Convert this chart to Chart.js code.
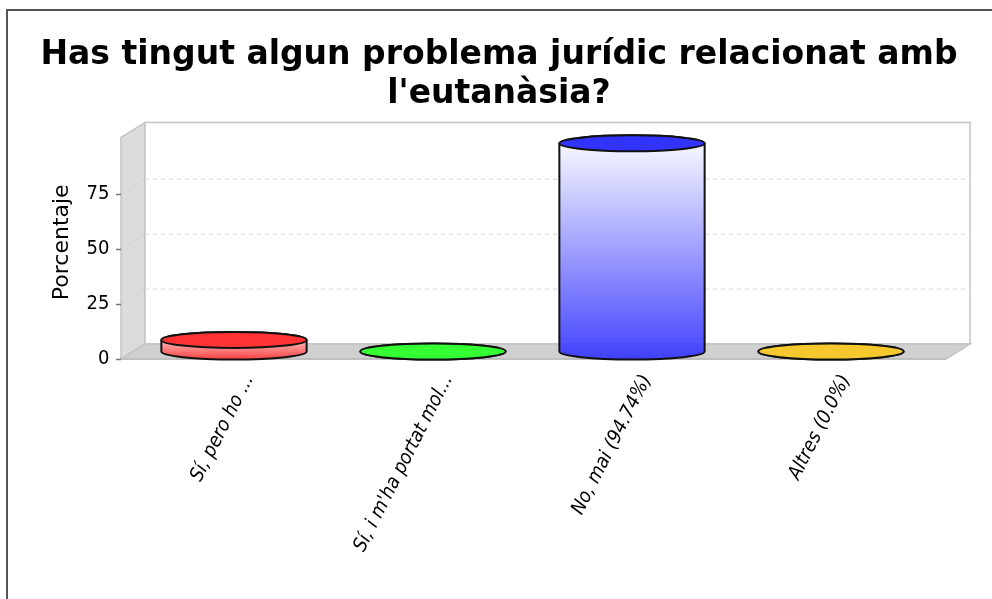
<!DOCTYPE html>
<html><head><meta charset="utf-8">
<style>html,body{margin:0;padding:0;background:#fff}#w{position:relative;width:992px;height:599px;overflow:hidden}
#f{position:absolute;left:6px;top:9px;width:1000px;height:600px;border:2px solid #555;box-sizing:border-box;pointer-events:none}</style>
<script src="https://cdn.jsdelivr.net/npm/chart.js@4"></script></head>
<body><div id="w"><canvas id="c" width="992" height="599"></canvas><div id="f"></div></div>
<script>
const titleLines = ["Has tingut algun problema jurídic relacionat amb", "l'eutanàsia?"];
const categories = ["Sí, pero ho ...", "Sí, i m'ha portat mol...", "No, mai (94.74%)", "Altres (0.0%)"];
const values = [5.26, 0, 94.74, 0];
const topColors = ["#ff3333", "#33ff33", "#3333ff", "#f5c92e"];
const axisTitle = "Porcentaje";
const yTicks = [0, 25, 50, 75];

const DX = 24, DY = 15;
function rgba(hex, a) {
  const n = parseInt(hex.slice(1), 16);
  return `rgba(${n>>16},${(n>>8)&255},${n&255},${a})`;
}
const frame = {
  id: 'frame3d',
  beforeDraw(chart) {
    const s = chart.scales.y;
    if (!s._shifted) {
      const orig = s.drawTitle;
      s.drawTitle = function () { const t = this.top; this.top = t - 12; orig.call(this); this.top = t; };
      s._shifted = true;
    }
  },
  beforeDatasetsDraw(chart) {
    const c = chart.ctx, y = chart.scales.y;
    const y0 = y.getPixelForValue(0), yT = y.top;
    const L = 121, R = 946;
    c.save();
    c.fillStyle = '#dcdcdc'; c.strokeStyle = '#c4c4c4'; c.lineWidth = 1.5;
    c.beginPath(); c.moveTo(L, y0); c.lineTo(L, yT); c.lineTo(L+DX, yT-DY); c.lineTo(L+DX, y0-DY); c.closePath(); c.fill(); c.stroke();
    c.fillStyle = '#fff';
    c.beginPath(); c.rect(L+DX, yT-DY, R-L, y0-yT); c.fill(); c.stroke();
    c.fillStyle = '#d0d0d0';
    c.beginPath(); c.moveTo(L, y0); c.lineTo(L+DX, y0-DY); c.lineTo(R+DX, y0-DY); c.lineTo(R, y0); c.closePath(); c.fill(); c.stroke();
    c.lineWidth = 1;
    yTicks.filter(v => v > 0).forEach(v => {
      const p = y.getPixelForValue(v);
      c.strokeStyle = '#d8d8d8'; c.setLineDash([4, 4]);
      c.beginPath(); c.moveTo(L+DX, p-DY); c.lineTo(R+DX, p-DY); c.stroke();
      c.strokeStyle = '#cfcfcf';
      c.beginPath(); c.moveTo(L, p); c.lineTo(L+DX, p-DY); c.stroke();
    });
    c.setLineDash([]);
    c.strokeStyle = '#777'; c.lineWidth = 1.5;
    yTicks.forEach(v => {
      const p = Math.round(y.getPixelForValue(v)) + .5;
      c.beginPath(); c.moveTo(L-5, p); c.lineTo(L, p); c.stroke();
    });
    c.beginPath(); c.moveTo(L, y0); c.lineTo(R, y0); c.strokeStyle = '#bbb'; c.stroke();
    c.restore();
  },
  beforeDatasetDraw(chart, args) {
    const c = chart.ctx, meta = args.meta, DH = 7.5;
    c.save();
    meta.data.forEach((b, i) => {
      const cx = b.x, rx = b.width / 2, ry = DH + .5;
      const top = b.y - DH, bot = b.base - DH;
      const g = c.createLinearGradient(0, top - 10, 0, bot + ry);
      g.addColorStop(0, 'rgba(255,255,255,.9)');
      g.addColorStop(1, rgba(topColors[i], .92));
      c.beginPath();
      c.moveTo(cx - rx, top);
      c.lineTo(cx - rx, bot);
      c.ellipse(cx, bot, rx, ry, 0, Math.PI, 0, true);
      c.lineTo(cx + rx, top);
      c.ellipse(cx, top, rx, ry, 0, 0, Math.PI, true);
      c.closePath();
      c.fillStyle = g; c.fill();
      c.strokeStyle = '#111'; c.lineWidth = 2; c.stroke();
      c.beginPath(); c.ellipse(cx, top, rx, ry, 0, 0, Math.PI * 2);
      c.fillStyle = topColors[i]; c.fill(); c.stroke();
    });
    c.restore();
    return false;
  }
};
new Chart(document.getElementById('c'), {
  type: 'bar',
  data: { labels: categories, datasets: [{ data: values, backgroundColor: topColors, barPercentage: 0.73, categoryPercentage: 1 }] },
  plugins: [frame],
  options: {
    responsive: false, animation: false,
    layout: { padding: { left: 6, top: 0, right: 0, bottom: 0 } },
    plugins: {
      legend: { display: false }, tooltip: { enabled: false },
      title: { display: true, text: titleLines, color: '#000', font: { family: 'DejaVu Sans', weight: 'bold', size: 33, lineHeight: 1.19 }, padding: { top: 36, bottom: 23 } }
    },
    scales: {
      x: {
        grid: { display: false, drawTicks: false }, border: { display: false },
        afterFit(s) { s.height = 599 - 359; },
        ticks: { autoSkip: false, minRotation: 63, maxRotation: 63, labelOffset: 15, padding: 12, color: '#000', font: { family: 'DejaVu Sans Condensed', size: 19.5, style: 'oblique' } }
      },
      y: {
        min: 0, max: 100.8,
        grid: { display: false, drawTicks: false }, border: { display: false },
        afterBuildTicks(s) { s.ticks = yTicks.map(v => ({ value: v })); },
        afterFit(s) { s.width = 128.5; },
        ticks: { padding: 25, color: '#000', font: { family: 'DejaVu Sans Condensed', size: 20 } },
        title: { display: true, text: axisTitle, color: '#000', font: { family: 'DejaVu Sans', size: 22 }, padding: { top: 43, bottom: 0 } }
      },
      pad: {
        position: 'right', display: true, min: 0, max: 1,
        grid: { display: false, drawTicks: false }, border: { display: false },
        ticks: { display: false },
        afterFit(s) { s.width = 61.5; }
      }
    }
  }
});
</script>
</body></html>
